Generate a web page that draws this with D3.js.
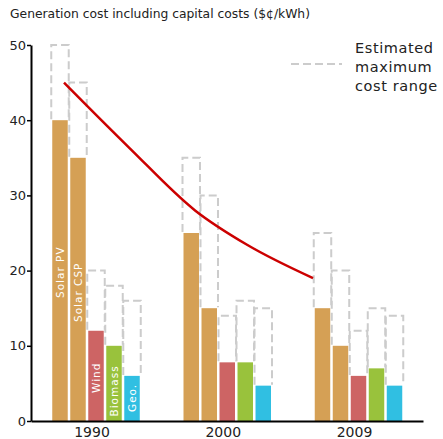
<!DOCTYPE html>
<html>
<head>
<meta charset="utf-8">
<script src="https://cdn.jsdelivr.net/npm/d3@7"></script>
<style>
  html, body { margin: 0; padding: 0; background: #fff; }
  svg { display: block; }
  text { font-family: "DejaVu Sans", sans-serif; }
</style>
</head>
<body>
<div id="chart"></div>
<script>
// ---- data ----
const years = ["1990", "2000", "2009"];
const sources = ["Solar PV", "Solar CSP", "Wind", "Biomass", "Geo."];
const colors = ["#d5a055", "#d5a055", "#cd6464", "#99c23c", "#30bfe2"];
const costs = {
  "1990": [40, 35, 12, 10, 6],
  "2000": [25, 15, 7.8, 7.8, 4.7],
  "2009": [15, 10, 6, 7, 4.7]
};
const maxCosts = {
  "1990": [50, 45, 20, 18, 16],
  "2000": [35, 30, 14, 16, 15],
  "2009": [25, 20, 12, 15, 14]
};
const trendYears = [1990, 1995, 2000, 2004, 2009];
const trendValues = [45, 36.3, 28, 23.4, 19];
const yTicks = [0, 10, 20, 30, 40, 50];
const title = "Generation cost including capital costs ($¢/kWh)";
const legendLines = ["Estimated", "maximum", "cost range"];

// ---- layout ----
const W = 443, H = 439;
const svg = d3.select("#chart").append("svg").attr("width", W).attr("height", H);

const y = d3.scaleLinear().domain([0, 50]).range([421, 45]);
const xGroup = d3.scalePoint().domain(years).range([96, 358.5]);
const xBar = d3.scaleBand().domain(sources).range([-43.75, 43.75]).paddingInner(0.14).paddingOuter(0);
const xTime = d3.scaleLinear().domain([1990, 2009]).range([64, 313]);
const bw = xBar.bandwidth();

// title
svg.append("text")
  .attr("x", 10).attr("y", 18)
  .attr("font-size", 12)
  .attr("font-family", "Liberation Sans, Arial, sans-serif")
  .attr("textLength", 300).attr("lengthAdjust", "spacingAndGlyphs")
  .attr("fill", "#222")
  .text(title);

// dashed max boxes
const dash = "8,4";
years.forEach(yr => {
  sources.forEach((s, i) => {
    const x0 = xGroup(yr) + xBar(s);
    svg.append("path")
      .attr("d", `M${x0 - 1},${y(costs[yr][i]) - 1}V${y(maxCosts[yr][i])}H${x0 + bw + 1}V${y(costs[yr][i]) - 1}`)
      .attr("fill", "none")
      .attr("stroke", "#cccccc")
      .attr("stroke-width", 2)
      .attr("stroke-dasharray", dash);
  });
});

// bars
years.forEach(yr => {
  svg.selectAll(null)
    .data(sources.map((s, i) => ({ s, i, v: costs[yr][i] })))
    .enter().append("rect")
    .attr("x", d => xGroup(yr) + xBar(d.s))
    .attr("y", d => y(d.v))
    .attr("width", bw)
    .attr("height", d => y(0) - y(d.v))
    .attr("fill", d => colors[d.i]);
});

// in-bar labels for 1990
const labelBottom = [298, 322, 393, 416.5, 412];
sources.forEach((s, i) => {
  const cx = xGroup("1990") + xBar(s) + bw / 2 + 4;
  svg.append("text")
    .attr("transform", `translate(${cx},${labelBottom[i]}) rotate(-90)`)
    .attr("font-size", 10.5)
    .attr("letter-spacing", 1)
    .attr("fill", "#fff")
    .text(s);
});

// trend line
svg.append("path")
  .datum(trendYears.map((t, i) => [t, trendValues[i]]))
  .attr("d", d3.line().x(d => xTime(d[0])).y(d => y(d[1])).curve(d3.curveMonotoneX))
  .attr("fill", "none")
  .attr("stroke", "#cc0000")
  .attr("stroke-width", 2.5);

// y axis
const yAxis = d3.axisLeft(y).tickValues(yTicks).tickSize(4).tickSizeOuter(0);
const gy = svg.append("g").attr("transform", "translate(31,0)").call(yAxis);
gy.select(".domain").attr("stroke", "#000").attr("stroke-width", 2);
gy.selectAll(".tick line").attr("stroke", "#000").attr("stroke-width", 1.5);
gy.selectAll(".tick text").attr("font-size", 13).attr("font-family", "DejaVu Sans, sans-serif").attr("fill", "#222").attr("x", -5);

// x axis line
const xAxis = d3.axisBottom(d3.scaleLinear().domain([0, 1]).range([31, 423])).ticks(0).tickSize(0).tickSizeOuter(0);
const gx = svg.append("g").attr("transform", `translate(0,${y(0)})`).call(xAxis);
gx.select(".domain").attr("stroke", "#000").attr("stroke-width", 2);

// year labels
years.forEach(yr => {
  svg.append("text")
    .attr("x", xGroup(yr) - 4).attr("y", 437)
    .attr("text-anchor", "middle")
    .attr("font-size", 14)
    .attr("fill", "#222")
    .text(yr);
});

// legend
svg.append("line")
  .attr("x1", 291).attr("x2", 342).attr("y1", 64).attr("y2", 64)
  .attr("stroke", "#cccccc").attr("stroke-width", 2).attr("stroke-dasharray", dash);
legendLines.forEach((t, i) => {
  svg.append("text")
    .attr("x", 355).attr("y", 53 + i * 19)
    .attr("font-size", 14.5)
    .attr("letter-spacing", 0.6)
    .attr("fill", "#222")
    .text(t);
});
</script>
</body>
</html>
